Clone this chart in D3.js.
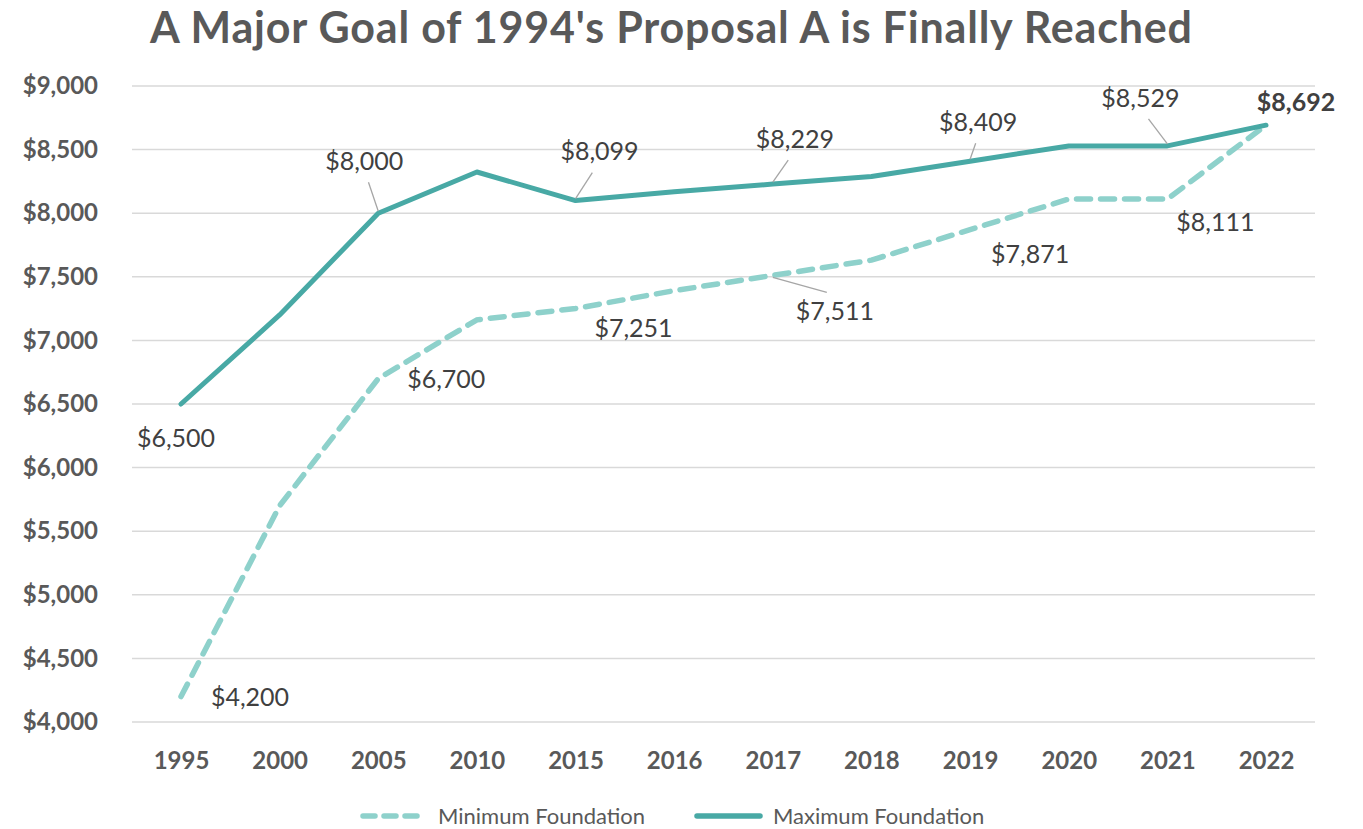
<!DOCTYPE html>
<html>
<head>
<meta charset="utf-8">
<script src="https://cdn.jsdelivr.net/npm/d3@7"></script>
<style>
  body { margin: 0; background: #fff; }
  svg { font-family: Lato, "Open Sans", sans-serif; }
</style>
</head>
<body>
<div id="chart"></div>
<script>
// data
var years = ['1995', '2000', '2005', '2010', '2015', '2016', '2017', '2018', '2019', '2020', '2021', '2022'];
var minFoundation = [4200, 5700, 6700, 7162, 7251, 7391, 7511, 7631, 7871, 8111, 8111, 8692];
var maxFoundation = [6500, 7200, 8000, 8324, 8099, 8169, 8229, 8289, 8409, 8529, 8529, 8692];
var yTicks = [4000, 4500, 5000, 5500, 6000, 6500, 7000, 7500, 8000, 8500, 9000];

// which points get a label, and where it goes (dx, dy from point, leader line or not)
var maxLabels = [
    { i: 0, dx: -5, dy: 34, lead: false },
    { i: 2, dx: -14, dy: -52, lead: true },
    { i: 4, dx: 24, dy: -49, lead: true },
    { i: 6, dx: 22, dy: -45, lead: true },
    { i: 8, dx: 8, dy: -39, lead: true },
    { i: 10, dx: -27, dy: -48, lead: true },
    { i: 11, dx: 30, dy: -23, lead: false, bold: true }
];
var minLabels = [
    { i: 0, dx: 69, dy: 1, lead: false },
    { i: 2, dx: 68, dy: 1, lead: false },
    { i: 4, dx: 58, dy: 20, lead: false },
    { i: 6, dx: 62, dy: 36, lead: true },
    { i: 8, dx: 60, dy: 25, lead: false },
    { i: 10, dx: 48, dy: 23, lead: false }
];

var W = 1363, H = 829;
var margin = { left: 132, right: 48, top: 86, bottom: 107 };

var svg = d3.select('#chart').append('svg')
    .attr('width', W)
    .attr('height', H);

var x = d3.scalePoint()
    .domain(years)
    .range([margin.left + 49, W - margin.right - 49]);

var y = d3.scaleLinear()
    .domain([4000, 9000])
    .range([H - margin.bottom, margin.top]);

var money = d3.format('$,');

// title
svg.append('text')
    .attr('x', 671)
    .attr('y', 43)
    .attr('text-anchor', 'middle')
    .attr('textLength', 1042)
    .attr('lengthAdjust', 'spacing')
    .style('font-size', '43px')
    .style('font-weight', 'bold')
    .style('fill', '#595959')
    .text("A Major Goal of 1994's Proposal A is Finally Reached");

// grid
svg.append('g')
    .selectAll('line')
    .data(yTicks)
    .join('line')
    .attr('x1', margin.left)
    .attr('x2', W - margin.right)
    .attr('y1', function(d) { return y(d); })
    .attr('y2', function(d) { return y(d); })
    .style('stroke', '#d9d9d9')
    .style('stroke-width', 1.5);

// y axis
var yAxis = svg.append('g')
    .attr('transform', 'translate(' + (margin.left - 31) + ',0)')
    .call(d3.axisLeft(y).tickValues(yTicks).tickFormat(money).tickSize(0));
yAxis.select('.domain').remove();
yAxis.selectAll('text')
    .style('font-family', 'Lato, sans-serif')
    .style('font-size', '24px')
    .style('font-weight', 'bold')
    .style('fill', '#595959');

// x axis
var xAxis = svg.append('g')
    .attr('transform', 'translate(0,' + (H - margin.bottom + 27) + ')')
    .call(d3.axisBottom(x).tickSize(0));
xAxis.select('.domain').remove();
xAxis.selectAll('text')
    .style('font-family', 'Lato, sans-serif')
    .style('font-size', '24px')
    .style('font-weight', 'bold')
    .style('fill', '#595959');

var line = d3.line()
    .x(function(d, i) { return x(years[i]); })
    .y(function(d) { return y(d); });

svg.append('path')
    .datum(minFoundation)
    .attr('d', line)
    .style('fill', 'none')
    .style('stroke', '#8ed1cb')
    .style('stroke-width', 5.5)
    .style('stroke-dasharray', '14,10')
    .style('stroke-linecap', 'round');

svg.append('path')
    .datum(maxFoundation)
    .attr('d', line)
    .style('fill', 'none')
    .style('stroke', '#48a9a5')
    .style('stroke-width', 5)
    .style('stroke-linejoin', 'round')
    .style('stroke-linecap', 'round');

function drawLabels(series, labels) {
    var g = svg.append('g');
    labels.forEach(function(l) {
        var px = x(years[l.i]), py = y(series[l.i]);
        var lx = px + l.dx, ly = py + l.dy;
        if (l.lead) {
            // leader from near the text to the point
            var tx = l.dy < 0 ? lx - l.dx * 0.3 : lx - 8;
            var ty = l.dy < 0 ? ly + 21 : ly - 19;
            g.append('line')
                .attr('x1', tx).attr('y1', ty)
                .attr('x2', px).attr('y2', py + (l.dy < 0 ? -2 : 2))
                .style('stroke', '#a6a6a6')
                .style('stroke-width', 1.3);
        }
        g.append('text')
            .attr('x', lx)
            .attr('y', ly)
            .attr('dy', '0.35em')
            .attr('text-anchor', 'middle')
            .style('font-size', '25px')
            .style('font-weight', l.bold ? 'bold' : 'normal')
            .style('fill', '#404040')
            .text(money(series[l.i]));
    });
}
drawLabels(maxFoundation, maxLabels);
drawLabels(minFoundation, minLabels);

// legend
var legend = svg.append('g').attr('transform', 'translate(0,816)');
legend.append('line')
    .attr('x1', 363).attr('x2', 424)
    .attr('y1', 0).attr('y2', 0)
    .style('stroke', '#8ed1cb')
    .style('stroke-width', 5.5)
    .style('stroke-dasharray', '12,9')
    .style('stroke-linecap', 'round');
legend.append('text')
    .attr('x', 438).attr('y', 0).attr('dy', '0.35em')
    .style('font-size', '22px')
    .style('fill', '#595959')
    .text('Minimum Foundation');
legend.append('line')
    .attr('x1', 697).attr('x2', 760)
    .attr('y1', 0).attr('y2', 0)
    .style('stroke', '#48a9a5')
    .style('stroke-width', 5.5)
    .style('stroke-linecap', 'round');
legend.append('text')
    .attr('x', 773).attr('y', 0).attr('dy', '0.35em')
    .style('font-size', '22px')
    .style('fill', '#595959')
    .text('Maximum Foundation');
</script>
</body>
</html>
